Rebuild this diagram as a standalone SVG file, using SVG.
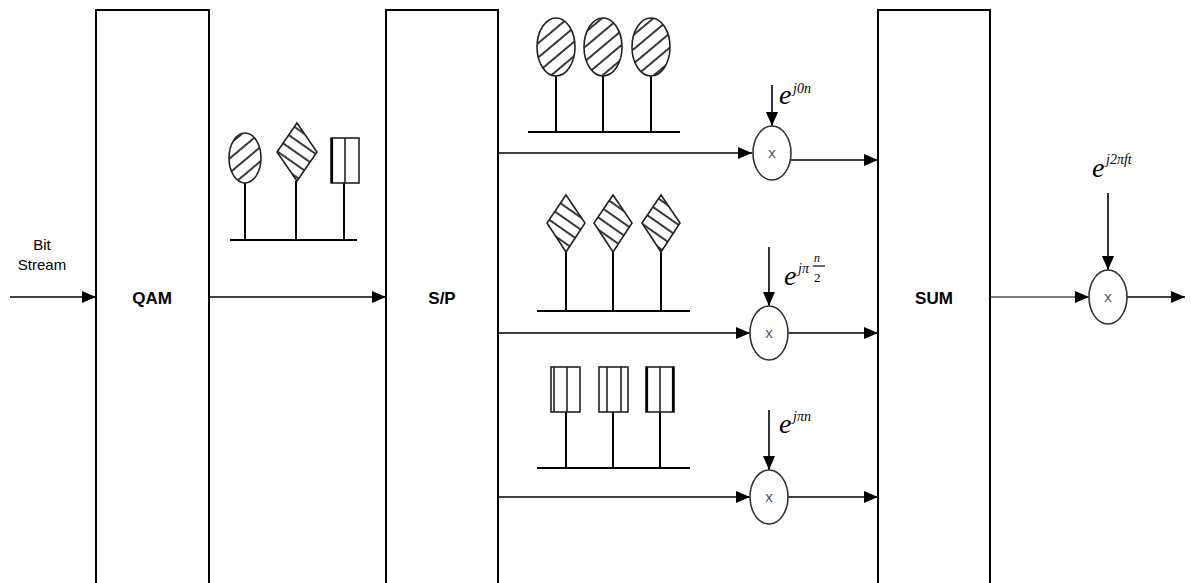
<svg xmlns="http://www.w3.org/2000/svg" width="1191" height="583" viewBox="0 0 1191 583">
<style>
.box{fill:#fff;stroke:#000;stroke-width:2}
.lbl{font-family:"Liberation Sans",Arial,sans-serif;font-weight:bold;font-size:17px;text-anchor:middle}
.ln{stroke:#000;stroke-width:2;fill:none}
.arr{stroke:#000;stroke-width:1.6;fill:none;marker-end:url(#ah)}
.mul{fill:#fff;stroke:#333;stroke-width:1.6}
.x{font-family:"Liberation Sans",Arial,sans-serif;font-size:15px;fill:#555;text-anchor:middle}
.e{font-family:"Liberation Serif","Times New Roman",serif;font-style:italic;font-size:28px}
.sup{font-family:"Liberation Serif","Times New Roman",serif;font-style:italic;font-size:14px}
.small{font-family:"Liberation Sans",Arial,sans-serif;font-size:15px;text-anchor:middle}
.hs{stroke:#000;stroke-width:2.2}
.sym{stroke:#222;stroke-width:1.6}
</style>
<defs>
<marker id="ah" markerWidth="14" markerHeight="12" refX="14" refY="6" orient="auto" markerUnits="userSpaceOnUse">
<path d="M0,0 L14,6 L0,12 Z" fill="#000"/>
</marker>
<pattern id="h1" patternUnits="userSpaceOnUse" width="11" height="11" patternTransform="rotate(-40)">
<line x1="0" y1="5" x2="11" y2="5" stroke="#222" stroke-width="1.8"/>
</pattern>
<pattern id="h2" patternUnits="userSpaceOnUse" width="10" height="10" patternTransform="rotate(35)">
<line x1="0" y1="5" x2="10" y2="5" stroke="#222" stroke-width="1.8"/>
</pattern>
</defs>

<g id="connectors">
<line class="arr" x1="10" y1="297" x2="96" y2="297"/>
<line class="arr" x1="209" y1="297" x2="386" y2="297"/>
<line class="arr" x1="498" y1="153" x2="752" y2="153"/>
<line class="arr" x1="498" y1="333" x2="750" y2="333"/>
<line class="arr" x1="498" y1="497" x2="750" y2="497"/>
<line class="arr" x1="791" y1="160" x2="878" y2="160"/>
<line class="arr" x1="788" y1="333" x2="878" y2="333"/>
<line class="arr" x1="788" y1="497" x2="878" y2="497"/>
<line class="arr" x1="772" y1="85" x2="772" y2="126"/>
<line class="arr" x1="769" y1="247" x2="769" y2="306"/>
<line class="arr" x1="769" y1="410" x2="769" y2="470"/>
<line class="arr" x1="990" y1="297" x2="1089" y2="297" style="stroke:#555"/>
<line class="arr" x1="1127" y1="297" x2="1185" y2="297"/>
<line class="arr" x1="1108" y1="193" x2="1108" y2="270"/>
</g>

<g id="bitstream">
<text class="small" x="42" y="250">Bit</text>
<text class="small" x="42" y="270">Stream</text>
</g>

<g id="qam"><rect class="box" x="96" y="10" width="113" height="580"/><text class="lbl" x="152" y="304">QAM</text></g>
<g id="sp"><rect class="box" x="386" y="10" width="112" height="580"/><text class="lbl" x="442" y="304">S/P</text></g>
<g id="sum"><rect class="box" x="878" y="10" width="112" height="580"/><text class="lbl" x="934" y="304">SUM</text></g>

<g id="qam-symbols">
<line class="ln" x1="230" y1="240" x2="357" y2="240"/>
<line class="ln" x1="245" y1="183" x2="245" y2="240"/>
<line class="ln" x1="296" y1="181" x2="296" y2="240"/>
<line class="ln" x1="344" y1="183" x2="344" y2="240"/>
<ellipse class="sym" cx="245" cy="158" rx="16" ry="25" fill="url(#h1)"/>
<polygon class="sym" points="297,123 317,152 297,181 277,152" fill="url(#h2)"/>
<rect class="sym" x="331" y="138" width="28" height="45" fill="#fff"/>
<line class="hs" x1="332" y1="138" x2="332" y2="183"/>
<line class="sym" x1="345" y1="138" x2="345" y2="183"/>
</g>

<g id="row1-symbols">
<line class="ln" x1="528" y1="132" x2="680" y2="132"/>
<line class="ln" x1="556" y1="76" x2="556" y2="132"/>
<line class="ln" x1="603" y1="76" x2="603" y2="132"/>
<line class="ln" x1="651" y1="76" x2="651" y2="132"/>
<ellipse class="sym" cx="556" cy="47" rx="19" ry="29" fill="url(#h1)"/>
<ellipse class="sym" cx="603" cy="47" rx="19" ry="29" fill="url(#h1)"/>
<ellipse class="sym" cx="651" cy="47" rx="19" ry="29" fill="url(#h1)"/>
</g>

<g id="row2-symbols">
<line class="ln" x1="537" y1="311" x2="690" y2="311"/>
<line class="ln" x1="566" y1="252" x2="566" y2="311"/>
<line class="ln" x1="613" y1="252" x2="613" y2="311"/>
<line class="ln" x1="661" y1="252" x2="661" y2="311"/>
<polygon class="sym" points="566,195 585,223 566,252 547,223" fill="url(#h2)"/>
<polygon class="sym" points="613,195 632,223 613,252 594,223" fill="url(#h2)"/>
<polygon class="sym" points="661,195 680,223 661,252 642,223" fill="url(#h2)"/>
</g>

<g id="row3-symbols">
<line class="ln" x1="537" y1="468" x2="690" y2="468"/>
<line class="ln" x1="566" y1="412" x2="566" y2="468"/>
<line class="ln" x1="613" y1="412" x2="613" y2="468"/>
<line class="ln" x1="660" y1="412" x2="660" y2="468"/>
<rect class="sym" x="551" y="367" width="29" height="45" fill="#fff"/>
<line class="sym" x1="554" y1="367" x2="554" y2="412"/>
<line class="sym" x1="567" y1="367" x2="567" y2="412"/>
<rect class="sym" x="599" y="367" width="29" height="45" fill="#fff"/>
<line class="sym" x1="607" y1="367" x2="607" y2="412"/>
<line class="sym" x1="621" y1="367" x2="621" y2="412"/>
<rect class="sym" x="646" y="367" width="28" height="45" fill="#fff"/>
<line class="hs" x1="647" y1="367" x2="647" y2="412"/>
<line class="sym" x1="660" y1="367" x2="660" y2="412"/>
<line class="hs" x1="673" y1="367" x2="673" y2="412"/>
</g>

<g id="mult1"><ellipse class="mul" cx="772" cy="153" rx="19" ry="27"/><text class="x" x="772" y="158">x</text></g>
<g id="mult2"><ellipse class="mul" cx="769" cy="333" rx="19" ry="27"/><text class="x" x="769" y="338">x</text></g>
<g id="mult3"><ellipse class="mul" cx="769" cy="497" rx="19" ry="27"/><text class="x" x="769" y="502">x</text></g>
<g id="mult4"><ellipse class="mul" cx="1108" cy="297" rx="19" ry="27"/><text class="x" x="1108" y="302">x</text></g>

<g id="exp1"><text class="e" x="779" y="104">e</text><text class="sup" x="793" y="93">j0n</text></g>
<g id="exp2"><text class="e" x="784" y="285">e</text><text class="sup" x="798" y="273">jπ</text>
<text class="sup" x="814" y="262" style="font-size:12px">n</text><line x1="813" y1="266" x2="825" y2="266" stroke="#000" stroke-width="1.2"/><text class="sup" x="814" y="282" style="font-style:normal;font-size:13px">2</text></g>
<g id="exp3"><text class="e" x="779" y="433">e</text><text class="sup" x="793" y="421">jπn</text></g>
<g id="exp4"><text class="e" x="1092" y="177">e</text><text class="sup" x="1106" y="164">j2πft</text></g>
</svg>
